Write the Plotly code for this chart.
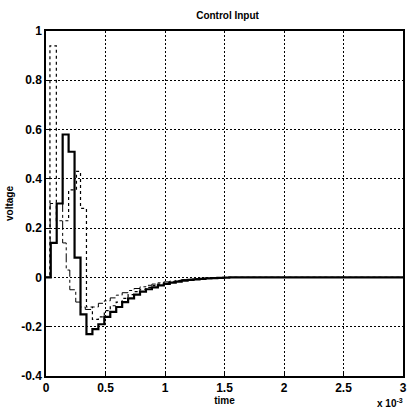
import plotly.graph_objects as go

# time in units of 1e-3 s, values in volts (zero-order-hold steps)
t_solid = [0, 0.04, 0.09, 0.14, 0.19, 0.24, 0.29, 0.34, 0.39, 0.44, 0.49, 0.54, 0.59, 0.64,
           0.69, 0.74, 0.79, 0.84, 0.89, 0.94, 0.99, 1.04, 1.09, 1.14, 1.19, 1.24, 1.29,
           1.34, 1.39, 1.44, 1.49, 1.54, 3.0]
v_solid = [0, 0.14, 0.30, 0.58, 0.51, 0.08, -0.15, -0.23, -0.21, -0.19, -0.16, -0.14, -0.12,
           -0.10, -0.085, -0.07, -0.058, -0.048, -0.04, -0.032, -0.026, -0.021, -0.017,
           -0.013, -0.01, -0.008, -0.006, -0.004, -0.003, -0.002, -0.001, 0, 0]

t_dotted = [0, 0.033, 0.087, 0.19, 0.256, 0.29, 0.34, 0.39, 0.44, 0.49, 0.54, 0.59, 0.64,
            0.69, 0.74, 0.79, 0.84, 0.89, 0.94, 0.99, 1.04, 1.09, 1.14, 1.19, 1.24, 1.29,
            1.34, 1.39, 1.44, 1.49, 1.54, 3.0]
v_dotted = [0, 0.94, 0.23, 0.355, 0.43, 0.28, -0.12, -0.17, -0.16, -0.135, -0.115, -0.10,
            -0.085, -0.07, -0.058, -0.048, -0.04, -0.033, -0.027, -0.022, -0.018, -0.014,
            -0.011, -0.009, -0.007, -0.005, -0.004, -0.003, -0.002, -0.001, 0, 0]

t_dashdot = [0, 0.035, 0.14, 0.17, 0.2, 0.25, 0.29, 0.33, 0.39, 0.44, 0.49, 0.54, 0.59, 0.64,
             0.69, 0.74, 0.79, 0.84, 0.89, 0.94, 0.99, 1.04, 1.09, 1.14, 1.19, 1.24, 1.29,
             1.34, 1.39, 1.44, 1.49, 3.0]
v_dashdot = [0, 0.30, 0.14, 0.03, -0.05, -0.10, -0.12, -0.13, -0.12, -0.105, -0.095, -0.083,
             -0.072, -0.062, -0.053, -0.045, -0.038, -0.032, -0.027, -0.022, -0.018, -0.015,
             -0.012, -0.009, -0.007, -0.005, -0.004, -0.003, -0.002, -0.001, 0, 0]

x_ticks = [0, 0.5, 1, 1.5, 2, 2.5, 3]
x_ticklabels = ["0", "0.5", "1", "1.5", "2", "2.5", "3"]
y_ticks = [-0.4, -0.2, 0, 0.2, 0.4, 0.6, 0.8, 1]
y_ticklabels = ["-0.4", "-0.2", "0", "0.2", "0.4", "0.6", "0.8", "1"]

FONT = "Liberation Sans Narrow, Arial Narrow, Liberation Sans, Arial, sans-serif"

fig = go.Figure()
fig.add_trace(go.Scatter(x=t_dotted, y=v_dotted, mode="lines", line_shape="hv",
                         line=dict(color="black", width=1.2, dash="dot"), showlegend=False))
fig.add_trace(go.Scatter(x=t_dashdot, y=v_dashdot, mode="lines", line_shape="hv",
                         line=dict(color="black", width=1, dash="dashdot"), showlegend=False))
fig.add_trace(go.Scatter(x=t_solid, y=v_solid, mode="lines", line_shape="hv",
                         line=dict(color="black", width=2.2), showlegend=False))

axis_common = dict(
    showline=True, linecolor="black", linewidth=1.5, mirror=True,
    ticks="inside", ticklen=4, tickcolor="black",
    showgrid=True, gridcolor="black", gridwidth=1, griddash="2px,2px",
    zeroline=False,
    tickfont=dict(family=FONT, size=12, color="black", weight="bold"),
)

fig.update_layout(
    width=410, height=413,
    margin=dict(l=46, r=3, t=31, b=37),
    paper_bgcolor="white", plot_bgcolor="white",
    title=dict(text="Control Input", x=0.555, xanchor="center", y=0.972, yanchor="top",
               font=dict(family=FONT, size=10, color="black", weight="bold")),
    xaxis=dict(range=[0, 3], tickvals=x_ticks, ticktext=x_ticklabels,
               title=dict(text="time", standoff=1,
                          font=dict(family=FONT, size=10, color="black", weight="bold")),
               **axis_common),
    yaxis=dict(range=[-0.4, 1], tickvals=y_ticks, ticktext=y_ticklabels,
               title=dict(text="voltage", standoff=6,
                          font=dict(family=FONT, size=10, color="black", weight="bold")),
               **axis_common),
    annotations=[dict(text="x 10<sup>-3</sup>", xref="paper", yref="paper",
                      x=1.005, y=-0.077, xanchor="right", yanchor="middle", showarrow=False,
                      font=dict(family=FONT, size=10, color="black", weight="bold"))],
)

fig.write_html("out.html", config={"displayModeBar": False},
               post_script="document.body.style.margin='0px';")
